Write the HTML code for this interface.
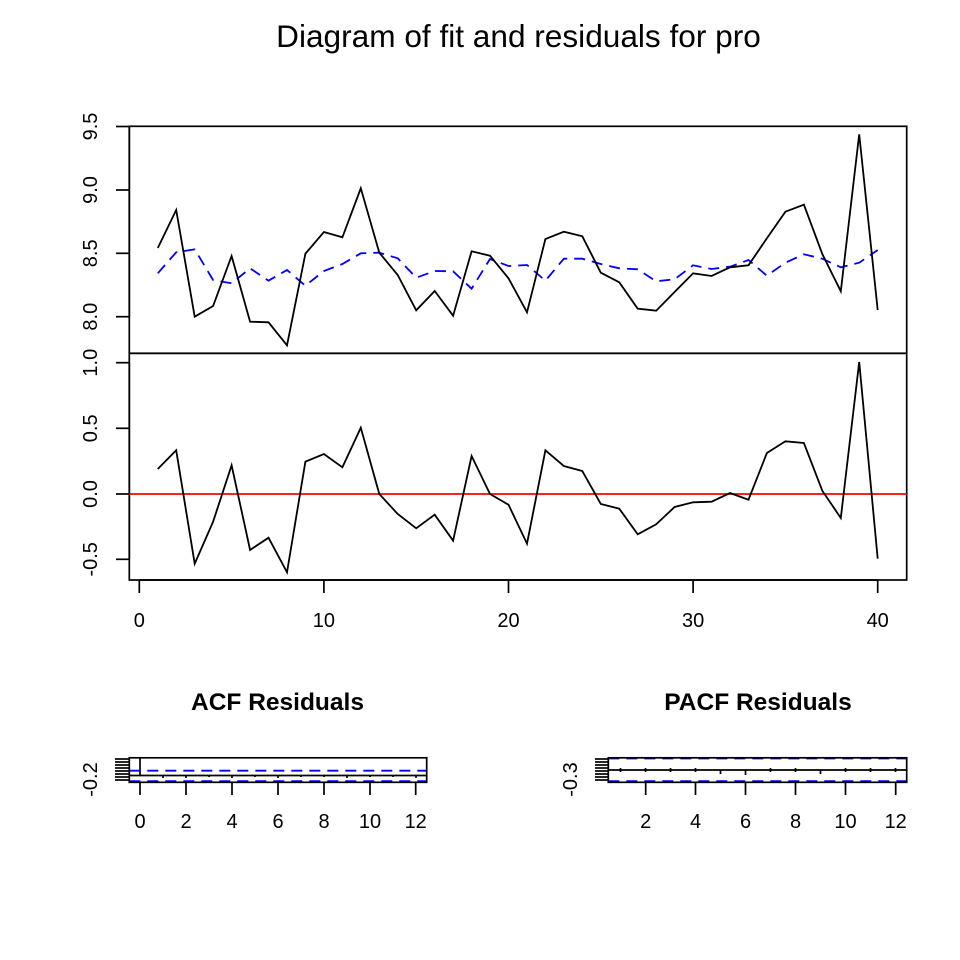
<!DOCTYPE html>
<html><head><meta charset="utf-8"><style>
html,body{margin:0;padding:0;background:#fff;}
svg{display:block;}
text{font-family:"Liberation Sans",Arial,sans-serif;fill:#000;}
</style></head><body>
<svg width="960" height="960" viewBox="0 0 960 960" xmlns="http://www.w3.org/2000/svg">
<rect width="960" height="960" fill="#fff"/>
<text x="518.5" y="47" font-size="31.6" text-anchor="middle">Diagram of fit and residuals for pro</text>

<!-- Top panel -->
<g fill="none" stroke="#000" stroke-width="1.7">
<rect x="129.3" y="126.3" width="777.4" height="227"/>
<line x1="129.3" y1="126.3" x2="129.3" y2="316.7"/>
<line x1="116" y1="126.5" x2="129.3" y2="126.5"/>
<line x1="116" y1="190" x2="129.3" y2="190"/>
<line x1="116" y1="253.3" x2="129.3" y2="253.3"/>
<line x1="116" y1="316.7" x2="129.3" y2="316.7"/>
</g>
<g font-size="20" text-anchor="middle">
<text transform="translate(97,126.5) rotate(-90)">9.5</text>
<text transform="translate(97,190) rotate(-90)">9.0</text>
<text transform="translate(97,253.3) rotate(-90)">8.5</text>
<text transform="translate(97,316.7) rotate(-90)">8.0</text>
</g>
<polyline fill="none" stroke="#0000ff" stroke-width="1.8" stroke-dasharray="11,7"
points="157.8,273.3 176.2,252.3 194.7,249.3 213.1,280 231.6,283.3 250.1,268.3 268.5,280.7 287,270 305.4,285.7 323.9,271 342.4,264 360.8,253.3 379.3,252.7 397.7,258.3 416.2,277.7 434.7,271 453.1,271.3 471.6,288.7 490,259 508.5,266 527,265 545.4,280.7 563.9,258.7 582.3,258.7 600.8,264 619.3,268.3 637.7,269.3 656.2,281.3 674.6,279.3 693.1,265.3 711.6,269 730,266.7 748.5,260 766.9,275.7 785.4,262.7 803.9,254.3 822.3,258.7 840.8,267.3 859.2,262.7 877.7,250"/>
<polyline fill="none" stroke="#000" stroke-width="1.8"
points="157.8,248 176.2,210 194.7,316.7 213.1,306 231.6,256 250.1,321.7 268.5,322.3 287,345.3 305.4,253.7 323.9,232 342.4,237.3 360.8,188.3 379.3,252.7 397.7,275 416.2,310.3 434.7,291 453.1,315.7 471.6,251.3 490,255.7 508.5,278.3 527,312.3 545.4,239 563.9,231.7 582.3,236.3 600.8,272.7 619.3,282.3 637.7,308.7 656.2,310.7 674.6,292 693.1,273.3 711.6,276 730,267.3 748.5,265.3 766.9,238.3 785.4,211.7 803.9,204.7 822.3,254 840.8,291.3 859.2,134.3 877.7,310"/>

<!-- Bottom panel -->
<g fill="none" stroke="#000" stroke-width="1.7">
<rect x="129.3" y="353.3" width="777.4" height="226.7"/>
<line x1="129.3" y1="362.7" x2="129.3" y2="559.3"/>
<line x1="116" y1="362.7" x2="129.3" y2="362.7"/>
<line x1="116" y1="428.3" x2="129.3" y2="428.3"/>
<line x1="116" y1="494" x2="129.3" y2="494"/>
<line x1="116" y1="559.3" x2="129.3" y2="559.3"/>
<line x1="139.3" y1="580" x2="877.7" y2="580"/>
<line x1="139.3" y1="580" x2="139.3" y2="593"/>
<line x1="323.9" y1="580" x2="323.9" y2="593"/>
<line x1="508.5" y1="580" x2="508.5" y2="593"/>
<line x1="693.1" y1="580" x2="693.1" y2="593"/>
<line x1="877.7" y1="580" x2="877.7" y2="593"/>
</g>
<g font-size="20" text-anchor="middle">
<text transform="translate(97,362.7) rotate(-90)">1.0</text>
<text transform="translate(97,428.3) rotate(-90)">0.5</text>
<text transform="translate(97,494) rotate(-90)">0.0</text>
<text transform="translate(97,559.3) rotate(-90)">-0.5</text>
<text x="139.3" y="627">0</text>
<text x="323.9" y="627">10</text>
<text x="508.5" y="627">20</text>
<text x="693.1" y="627">30</text>
<text x="877.7" y="627">40</text>
</g>
<line x1="129.3" y1="494" x2="906.7" y2="494" stroke="#ff0000" stroke-width="1.8"/>
<polyline fill="none" stroke="#000" stroke-width="1.8"
points="157.8,469 176.2,450.3 194.7,563.7 213.1,521.7 231.6,465.3 250.1,550 268.5,537.7 287,572.3 305.4,461.7 323.9,454 342.4,467.3 360.8,427.7 379.3,494 397.7,514 416.2,528.3 434.7,514.7 453.1,540.7 471.6,456 490,494 508.5,504.7 527,543.7 545.4,450.3 563.9,466 582.3,471 600.8,504 619.3,508.7 637.7,534.3 656.2,524.3 674.6,507 693.1,502.3 711.6,501.7 730,493 748.5,499.7 766.9,453 785.4,441.3 803.9,443 822.3,490.7 840.8,518 859.2,362 877.7,558.7"/>

<!-- ACF -->
<text x="277.5" y="710" font-size="24.5" font-weight="bold" text-anchor="middle">ACF Residuals</text>
<g stroke="#000" stroke-width="1.7" fill="none">
<line x1="129.3" y1="775.5" x2="426.7" y2="775.5"/>
<line x1="140" y1="757.8" x2="140" y2="775.5"/>
<line x1="163" y1="775.5" x2="163" y2="778"/>
<line x1="186" y1="775.5" x2="186" y2="778"/>
<line x1="209" y1="775.5" x2="209" y2="777"/>
<line x1="232" y1="775.5" x2="232" y2="778"/>
<line x1="255" y1="775.5" x2="255" y2="777"/>
<line x1="278" y1="775.5" x2="278" y2="778"/>
<line x1="301" y1="775.5" x2="301" y2="777"/>
<line x1="324" y1="775.5" x2="324" y2="777"/>
<line x1="347" y1="775.5" x2="347" y2="778"/>
<line x1="370" y1="775.5" x2="370" y2="777"/>
<line x1="393" y1="775.5" x2="393" y2="777"/>
<line x1="416" y1="775.5" x2="416" y2="778"/>
</g>
<g stroke="#0000ff" stroke-width="1.8" stroke-dasharray="11,7">
<line x1="129.3" y1="770.7" x2="426.7" y2="770.7"/>
<line x1="129.3" y1="781.3" x2="426.7" y2="781.3" stroke-width="2.2"/>
</g>
<g stroke="#000" stroke-width="1.7" fill="none">
<rect x="129.3" y="757.8" width="297.4" height="24.5"/>
<line x1="115" y1="759" x2="129.3" y2="759"/>
<line x1="115" y1="762" x2="129.3" y2="762"/>
<line x1="115" y1="765" x2="129.3" y2="765"/>
<line x1="115" y1="768" x2="129.3" y2="768"/>
<line x1="115" y1="771" x2="129.3" y2="771"/>
<line x1="115" y1="774" x2="129.3" y2="774"/>
<line x1="115" y1="777" x2="129.3" y2="777"/>
<line x1="115" y1="780" x2="129.3" y2="780"/>
<line x1="140" y1="782.3" x2="140" y2="795"/>
<line x1="186" y1="782.3" x2="186" y2="795"/>
<line x1="232" y1="782.3" x2="232" y2="795"/>
<line x1="278" y1="782.3" x2="278" y2="795"/>
<line x1="324" y1="782.3" x2="324" y2="795"/>
<line x1="370" y1="782.3" x2="370" y2="795"/>
<line x1="415.7" y1="782.3" x2="415.7" y2="795"/>
</g>
<g font-size="20" text-anchor="middle">
<text transform="translate(97,779.5) rotate(-90)">-0.2</text>
<text x="140" y="828">0</text>
<text x="186" y="828">2</text>
<text x="232" y="828">4</text>
<text x="278" y="828">6</text>
<text x="324" y="828">8</text>
<text x="370" y="828">10</text>
<text x="415.7" y="828">12</text>
</g>

<!-- PACF -->
<text x="758" y="710" font-size="24.5" font-weight="bold" text-anchor="middle">PACF Residuals</text>
<g stroke="#000" stroke-width="1.7" fill="none">
<line x1="608.3" y1="770" x2="906.7" y2="770"/>
<line x1="620.5" y1="768" x2="620.5" y2="772"/>
<line x1="645.5" y1="768" x2="645.5" y2="772"/>
<line x1="670.5" y1="768" x2="670.5" y2="772"/>
<line x1="695.5" y1="768" x2="695.5" y2="772"/>
<line x1="720.5" y1="770" x2="720.5" y2="774"/>
<line x1="745.5" y1="770" x2="745.5" y2="775"/>
<line x1="770.5" y1="768" x2="770.5" y2="772"/>
<line x1="795.5" y1="768" x2="795.5" y2="772"/>
<line x1="820.5" y1="770" x2="820.5" y2="774"/>
<line x1="845.5" y1="768" x2="845.5" y2="772"/>
<line x1="870.5" y1="768" x2="870.5" y2="772"/>
<line x1="895.5" y1="768" x2="895.5" y2="772"/>
</g>
<g stroke="#0000ff" stroke-width="2.2" stroke-dasharray="11,7">
<line x1="608.3" y1="758.3" x2="906.7" y2="758.3"/>
<line x1="608.3" y1="781.3" x2="906.7" y2="781.3"/>
</g>
<g stroke="#000" stroke-width="1.7" fill="none">
<rect x="608.3" y="757.8" width="298.4" height="24.5"/>
<line x1="595" y1="759" x2="608.3" y2="759"/>
<line x1="595" y1="762" x2="608.3" y2="762"/>
<line x1="595" y1="765" x2="608.3" y2="765"/>
<line x1="595" y1="768" x2="608.3" y2="768"/>
<line x1="595" y1="771" x2="608.3" y2="771"/>
<line x1="595" y1="774" x2="608.3" y2="774"/>
<line x1="595" y1="777" x2="608.3" y2="777"/>
<line x1="595" y1="780" x2="608.3" y2="780"/>
<line x1="645.7" y1="782.3" x2="645.7" y2="795"/>
<line x1="695.5" y1="782.3" x2="695.5" y2="795"/>
<line x1="745.5" y1="782.3" x2="745.5" y2="795"/>
<line x1="795.5" y1="782.3" x2="795.5" y2="795"/>
<line x1="845.5" y1="782.3" x2="845.5" y2="795"/>
<line x1="895.7" y1="782.3" x2="895.7" y2="795"/>
</g>
<g font-size="20" text-anchor="middle">
<text transform="translate(577,779.5) rotate(-90)">-0.3</text>
<text x="645.7" y="828">2</text>
<text x="695.5" y="828">4</text>
<text x="745.5" y="828">6</text>
<text x="795.5" y="828">8</text>
<text x="845.5" y="828">10</text>
<text x="895.7" y="828">12</text>
</g>
</svg>
</body></html>
